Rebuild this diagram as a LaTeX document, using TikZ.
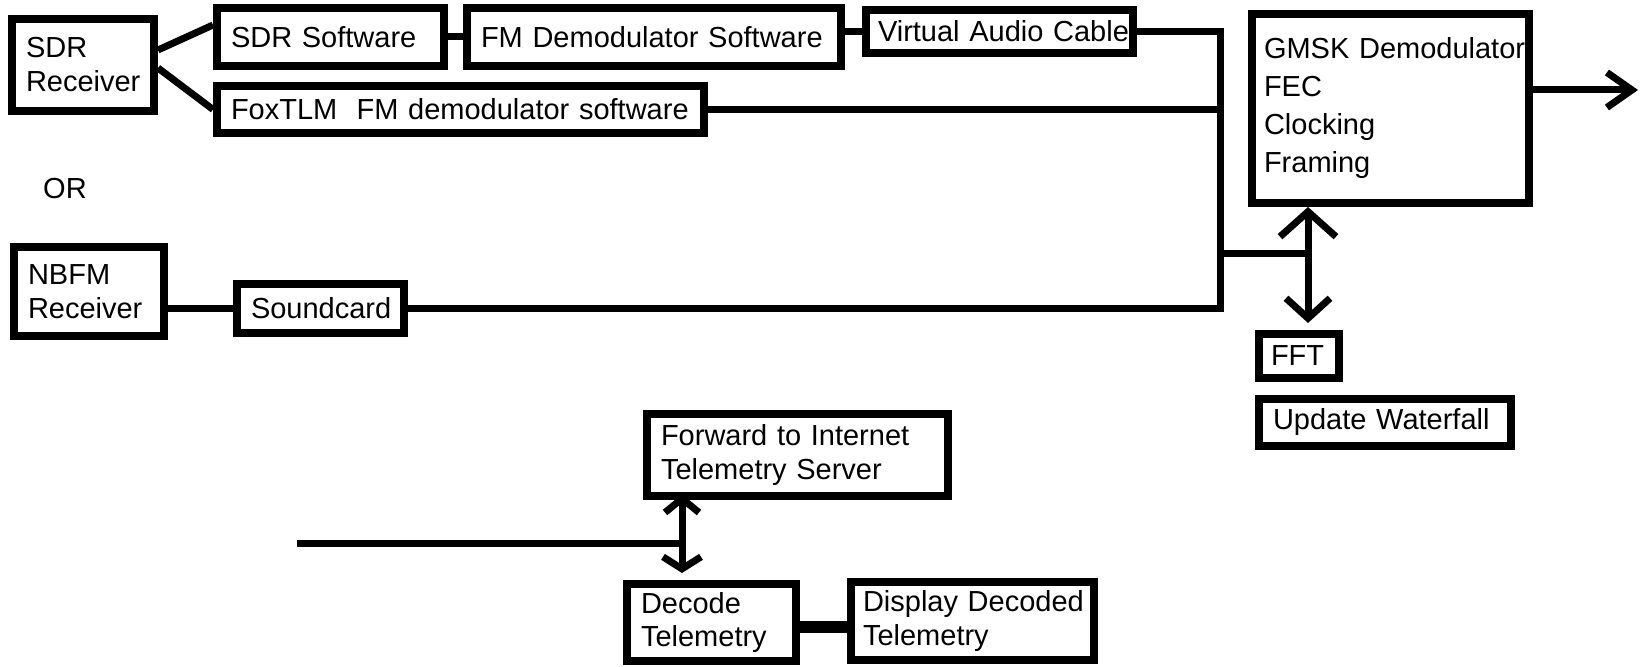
\documentclass[tikz,border=0pt]{standalone}
\usepackage{fontspec}
\setmainfont{Liberation Sans}
\usetikzlibrary{arrows.meta}
\hyphenpenalty=10000
\exhyphenpenalty=10000
\begin{document}
\begin{tikzpicture}[x=0.5pt,y=-0.5pt,
  box/.style={draw=black, line width=4pt, rectangle, inner xsep=7pt, inner ysep=0pt,
    align=left, font=\fontsize{14.5}{17}\selectfont},
  wire/.style={draw=black, line width=3.5pt},
  lbl/.style={font=\fontsize{14.5}{17}\selectfont}]
\path[fill=white] (0,0) rectangle (1647,667);
\useasboundingbox (0,0) rectangle (1647,667);

% boxes
\node[box, text width=57pt, minimum height=46pt] (sdrrx) at (83,65) {SDR\\Receiver};
\node[box, text width=99.5pt, minimum height=29pt] (sdrsw) at (330.5,37) {SDR~Software};
\node[box, text width=173pt, minimum height=29pt] (fmdem) at (654,37) {FM~Demodulator~Software};
\node[box, text width=121.5pt, inner xsep=6pt, minimum height=21.5pt] (vac) at (999.5,31.5) {Virtual~Audio~Cable};
\node[box, text width=229.5pt, minimum height=23.5pt] (fox) at (460.5,109.5) {FoxTLM~~FM~demodulator~software};
\node[box, text width=126.5pt, inner xsep=6pt, minimum height=94.5pt, font=\fontsize{14.5}{19}\selectfont] (gmsk) at (1390.5,108.5) {GMSK~Demodulator\\FEC\\Clocking\\Framing};
\node[box, text width=28pt, inner xsep=6pt, minimum height=22pt] (fft) at (1299,356) {FFT};
\node[box, text width=112pt, minimum height=23.5pt] (wf) at (1385,422.5) {Update~Waterfall};
\node[box, text width=61pt, minimum height=44.5pt] (nbfm) at (89,291.5) {NBFM\\Receiver};
\node[box, text width=69.5pt, minimum height=24.5pt] (sound) at (320.5,308.5) {Soundcard};
\node[box, text width=136.5pt, minimum height=41pt] (fwd) at (797.5,455) {Forward~to~Internet\\Telemetry~Server};
\node[box, text width=70.5pt, minimum height=38.5pt] (dec) at (711.5,622.5) {Decode\\Telemetry};
\node[box, text width=109.5pt, inner xsep=6pt, minimum height=39pt] (disp) at (972.5,621) {Display~Decoded\\Telemetry};
\node[lbl] (or) at (65,189) {OR};

% coordinates
\coordinate (bus) at (1220,307);
\coordinate (j) at (1308,254);
\coordinate (out) at (1638,90);
\coordinate (k) at (682,543);
\coordinate (lin) at (297,543);

% connectors
\draw[wire] ([yshift=7.5pt]sdrrx.east) -- ([yshift=6pt]sdrsw.west);
\draw[wire] ([yshift=-1.5pt]sdrrx.east) -- (fox.west);
\draw[wire] (sdrsw.east) -- (fmdem.west);
\draw[wire] (fmdem.east |- vac.west) -- (vac.west);
\draw[wire] (vac.east) -| (sound.east -| bus) -- (sound.east);
\draw[wire] (fox.east) -- (fox.east -| bus);
\draw[wire] (nbfm.east |- sound.west) -- (sound.west);
\draw[wire] (j -| bus) -- (j);
\draw[wire, {Straight Barb[length=12.5pt,width=28pt]}-{Straight Barb[length=10pt,width=22pt]}, shorten >=3.5pt]
  (gmsk.south -| j) -- (fft.north -| j);
\draw[wire, -{Straight Barb[length=12.5pt,width=17.5pt]}] (gmsk.east |- out) -- (out);
\draw[wire] (lin) -- (k);
\draw[wire, {Straight Barb[length=7pt,width=17pt]}-{Straight Barb[length=6pt,width=19pt]}, shorten <=-3pt, shorten >=3.5pt]
  (fwd.south -| k) -- (dec.north -| k);
\draw[draw=black, line width=6pt] ([yshift=-2pt]dec.east) -- ([yshift=-2pt]dec.east -| disp.west);
\end{tikzpicture}
\end{document}
